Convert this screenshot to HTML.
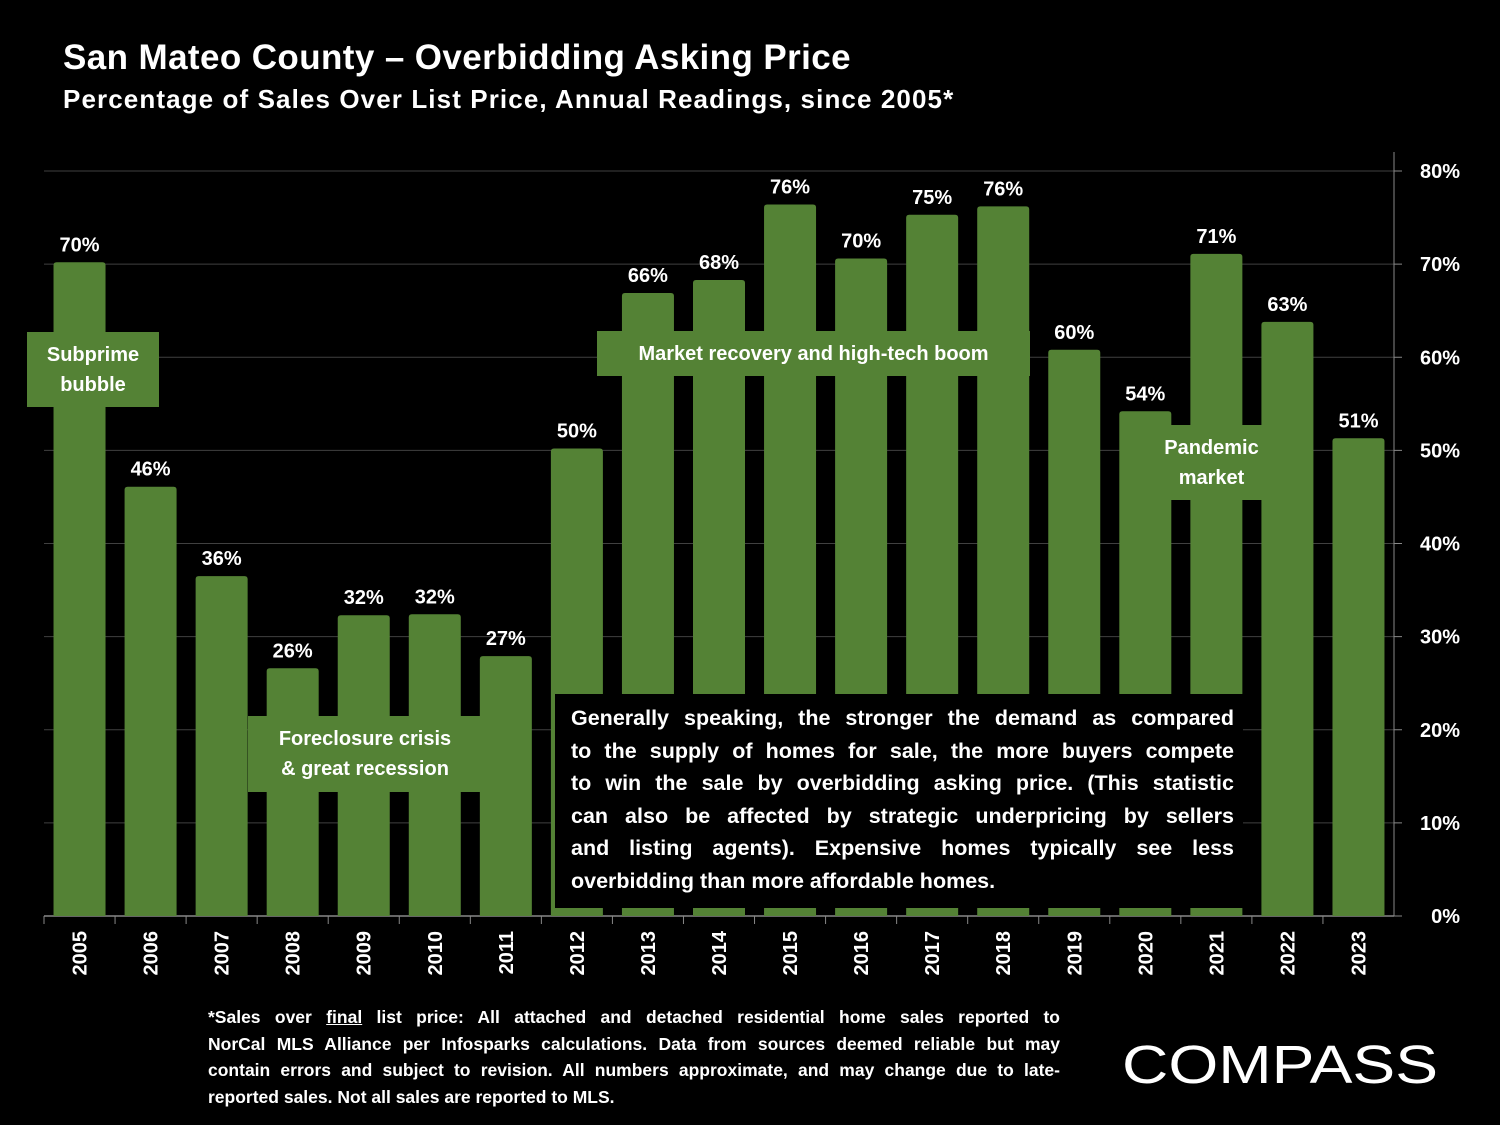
<!DOCTYPE html>
<html><head><meta charset="utf-8"><style>
html,body{margin:0;padding:0;background:#000;}
body{width:1500px;height:1125px;position:relative;overflow:hidden;font-family:"Liberation Sans",sans-serif;color:#fff;}
.t{position:absolute;font-weight:bold;white-space:nowrap;}
.box{position:absolute;background:#548235;color:#fff;font-weight:bold;font-size:20px;text-align:center;display:flex;align-items:center;justify-content:center;line-height:30px;}
.jl{text-align:justify;text-align-last:justify;white-space:nowrap;}
.ll{text-align:left;white-space:nowrap;}
</style></head><body>
<div class="t" style="left:63px;top:38px;font-size:35px;letter-spacing:0.4px;">San Mateo County – Overbidding Asking Price</div>
<div class="t" style="left:63px;top:84px;font-size:26px;letter-spacing:1.1px;">Percentage of Sales Over List Price, Annual Readings, since 2005*</div>
<svg id="chart" width="1500" height="1000" style="position:absolute;left:0;top:0"></svg>
<div class="box" style="left:27px;top:332px;width:132px;height:75px;">Subprime<br>bubble</div>
<div class="box" style="left:597px;top:331px;width:433px;height:45px;">Market recovery and high-tech boom</div>
<div class="box" style="left:1160px;top:425px;width:103px;height:75px;">Pandemic<br>market</div>
<div class="box" style="left:248px;top:716px;width:234px;height:76px;">Foreclosure crisis<br>&amp; great recession</div>
<div style="position:absolute;left:555px;top:694px;width:688px;height:214px;background:#000;box-sizing:border-box;padding:8px 9px 0 16px;font-size:21.5px;font-weight:bold;line-height:32.6px;">
<div class="jl">Generally speaking, the stronger the demand as compared</div>
<div class="jl">to the supply of homes for sale, the more buyers compete</div>
<div class="jl">to win the sale by overbidding asking price. (This statistic</div>
<div class="jl">can also be affected by strategic underpricing by sellers</div>
<div class="jl">and listing agents). Expensive homes typically see less</div>
<div class="ll">overbidding than more affordable homes.</div>
</div>
<div style="position:absolute;left:208px;top:1004px;width:852px;font-size:17.5px;font-weight:bold;line-height:26.5px;">
<div class="jl">*Sales over <u>final</u> list price: All attached and detached residential home sales reported to</div>
<div class="jl">NorCal MLS Alliance per Infosparks calculations. Data from sources deemed reliable but may</div>
<div class="jl">contain errors and subject to revision. All numbers approximate, and may change due to late-</div>
<div class="ll">reported sales. Not all sales are reported to MLS.</div>
</div>
<svg width="330" height="60" style="position:absolute;left:1118px;top:1034px"><text x="4" y="49" font-family="Liberation Sans,sans-serif" font-size="54" fill="#fff" textLength="316" lengthAdjust="spacingAndGlyphs">COMPASS</text></svg>
<script>
const categories=["2005","2006","2007","2008","2009","2010","2011","2012","2013","2014","2015","2016","2017","2018","2019","2020","2021","2022","2023"];
const values=[70.2,46.1,36.5,26.6,32.3,32.4,27.9,50.2,66.9,68.3,76.4,70.6,75.3,76.2,60.8,54.2,71.1,63.8,51.3];
const valueLabels=["70%","46%","36%","26%","32%","32%","27%","50%","66%","68%","76%","70%","75%","76%","60%","54%","71%","63%","51%"];
const tickValues=[0,10,20,30,40,50,60,70,80];
const tickLabels=["0%","10%","20%","30%","40%","50%","60%","70%","80%"];
const svg=document.getElementById('chart');
const NS='http://www.w3.org/2000/svg';
const X0=44,X1=1394,Y0=916,Y80=171;
const band=(X1-X0)/categories.length;
const y=v=>Y0-(v/80)*(Y0-Y80);
const xc=i=>X0+band*(i+0.5);
function mk(tag,attrs){const e=document.createElementNS(NS,tag);for(const k in attrs)e.setAttribute(k,attrs[k]);svg.appendChild(e);return e;}
tickValues.forEach((t,i)=>{
  if(t>0){const g=mk('line',{x1:X0,x2:X1,y1:y(t),y2:y(t),stroke:'#404040','stroke-width':1});
  
  }
  const tk=mk('line',{x1:X1,x2:X1+8,y1:y(t),y2:y(t),stroke:'#888','stroke-width':1});
  
  
  const l=mk('text',{x:1460,y:y(t)+7,'text-anchor':'end','font-size':20,'font-weight':'bold',fill:'#fff','font-family':'Liberation Sans,sans-serif'});
  l.textContent=tickLabels[i];
  
  
});
const ax=mk('line',{x1:X1,x2:X1,y1:152,y2:Y0,stroke:'#888','stroke-width':1});


const bx=mk('line',{x1:X0,x2:X1,y1:Y0,y2:Y0,stroke:'#888','stroke-width':1.5});


categories.forEach((c,i)=>{
  const tk=mk('line',{x1:X0+band*i,x2:X0+band*i,y1:Y0,y2:Y0+8,stroke:'#888','stroke-width':1});
  
  
  const w=52,top=y(values[i]);
  const b=mk('path',{d:`M${xc(i)-w/2},${Y0}V${top+3}Q${xc(i)-w/2},${top} ${xc(i)-w/2+3},${top}H${xc(i)+w/2-3}Q${xc(i)+w/2},${top} ${xc(i)+w/2},${top+3}V${Y0}Z`,fill:'#548235'});
  
  
  const lb=mk('text',{x:xc(i),y:top-11,'text-anchor':'middle','font-size':20,'font-weight':'bold',fill:'#fff','font-family':'Liberation Sans,sans-serif'});
  lb.textContent=valueLabels[i];
  
  
  const xl=mk('text',{x:0,y:0,'text-anchor':'end','font-size':20,'font-weight':'bold',fill:'#fff','font-family':'Liberation Sans,sans-serif',transform:`translate(${xc(i)+7},931) rotate(-90)`});
  xl.textContent=c;
  
  
});
</script>
</body></html>
